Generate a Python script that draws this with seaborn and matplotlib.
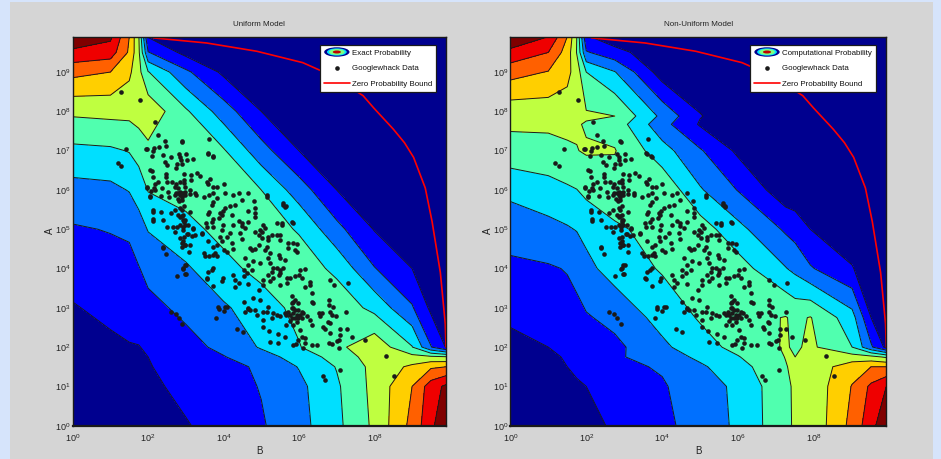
import matplotlib
matplotlib.use("Agg")
import matplotlib.pyplot as plt
from matplotlib.legend_handler import HandlerBase
from matplotlib.patches import Ellipse, Patch, Rectangle
import numpy as np
import pandas as pd
import seaborn as sns

# everything below is log10 of B and A
uniform_nodes = [0, 1, 1.5, 1.75, 2, 3, 4, 5, 6, 7, 8, 9, 9.5, 9.9]
uniform_z = [
    [0, .3, .46, .54, .6, .93, 1.4, 1.9, 2.65, 3.75, 5.2, 7.3, 8.75, 9.85],
    [.3, .55, .7, .78, .8, 1.25, 1.6, 2.05, 2.75, 3.85, 5.3, 7.0, 8.5, 9.2],
    [.46, .7, .85, .92, .95, 1.35, 1.7, 2.15, 3.05, 4.05, 5.3, 6.2, 6.85, 7.0],
    [.54, .78, .92, .98, 1.0, 1.5, 1.95, 2.6, 3.4, 4.4, 5.45, 5.3, 5.2, 5.1],
    [.6, .8, .95, .97, 1.12, 1.65, 2.25, 3.1, 3.95, 4.75, 5.7, 4.05, 2.05, .95],
    [.93, 1.25, 1.35, 1.5, 1.7, 2.25, 2.85, 3.6, 4.25, 4.7, 3.7, 2.1, .8, .3],
    [1.4, 1.6, 1.7, 1.95, 2.3, 2.85, 3.75, 4.25, 4.6, 3.75, 2.05, 1.0, .4, .2],
    [1.9, 2.05, 2.15, 2.6, 3.05, 3.75, 4.25, 4.55, 3.9, 2.3, .95, .4, .2, .1],
    [2.65, 2.75, 3.05, 3.4, 4.05, 4.3, 4.6, 4.0, 2.5, 1.0, .4, .2, .1, .05],
    [3.75, 3.85, 4.05, 4.4, 4.75, 4.5, 4.1, 2.4, 1.0, .4, .2, .1, .05, .02],
    [5.2, 5.3, 5.3, 5.45, 5.7, 4.15, 2.5, 1.0, .4, .2, .1, .05, .02, .01],
    [7.3, 7.0, 6.2, 5.3, 4.05, 2.2, .8, .4, .2, .1, .05, .02, .01, 0],
    [8.75, 8.5, 6.85, 5.2, 2.05, .7, .2, .1, .05, .02, .01, 0, 0, 0],
    [9.85, 9.2, 7.0, 5.1, .95, .3, .1, .05, .02, .01, 0, 0, 0, 0],
]

nonuniform_b_nodes = [0, 1, 1.5, 1.75, 2, 2.75, 4, 5, 6, 7.25, 7.5, 7.9, 9, 9.5, 9.9]
nonuniform_a_nodes = [0, 1, 1.5, 1.75, 2, 2.75, 4, 5, 6, 7, 7.67, 7.88, 9, 9.5, 9.9]
nonuniform_z = [
    [.1, .4, .58, .66, .78, 1.1, 1.8, 2.35, 3.2, 4.75, 5.15, 5.2, 7.3, 8.65, 9.8],
    [.45, .7, .85, .93, 1.0, 1.55, 1.9, 2.55, 3.2, 4.8, 5.15, 5.25, 7.05, 8.2, 9.0],
    [.62, .85, 1.0, 1.1, 1.2, 1.75, 2.1, 2.85, 3.6, 4.95, 5.2, 5.3, 6.6, 7.0, 7.0],
    [.68, .9, 1.05, 1.15, 1.3, 1.85, 2.5, 3.2, 3.95, 5.03, 5.0, 5.35, 5.4, 5.3, 4.85],
    [.8, 1.0, 1.25, 1.4, 1.5, 1.75, 2.8, 3.6, 4.3, 5.1, 4.85, 5.2, 4.0, 2.15, .75],
    [1.1, 1.45, 1.65, 1.8, 1.9, 2.3, 3.35, 4.1, 4.6, 5.05, 4.8, 5.05, 3.4, 1.0, .4],
    [1.8, 1.9, 2.05, 2.2, 2.75, 3.4, 4.1, 4.5, 4.45, 3.05, 2.75, 2.1, 1.05, .5, .2],
    [2.4, 2.7, 2.9, 3.05, 3.25, 3.85, 4.35, 4.5, 3.3, 1.85, 1.6, 1.0, .5, .2, .1],
    [3.25, 3.6, 3.85, 3.98, 4.25, 4.55, 4.8, 3.1, 1.95, .35, .3, .2, .1, .05, .02],
    [4.6, 4.7, 4.9, 4.97, 5.1, 5.05, 3.4, 2.1, .8, .3, .2, .1, .05, .02, .01],
    [5.15, 5.15, 5.15, 5.1, 4.9, 4.6, 2.35, .9, .3, .2, .1, .05, .02, .01, 0],
    [5.2, 5.3, 5.4, 5.3, 5.15, 5.0, 2.75, 1.05, .35, .2, .1, .05, .02, .01, 0],
    [7.4, 6.95, 6.3, 5.5, 4.0, 3.05, .5, .3, .2, .1, .05, .02, .01, 0, 0],
    [8.7, 8.0, 6.55, 4.95, 2.1, 1.35, .3, .2, .1, .05, .02, .01, 0, 0, 0],
    [9.9, 9.0, 7.0, 5.0, 1.1, .4, .1, .05, .02, .01, 0, 0, 0, 0, 0],
]

band_levels = [-1, 1, 2, 3, 4, 5, 6, 7, 8, 9, 11]
band_colors = ["#00008f", "#0000ff", "#0070ff", "#00dfff", "#50ffaf",
               "#bfff40", "#ffcf00", "#ff6000", "#ef0000", "#800000"]

bound_b = [2.14, 3.55, 4.88, 6.1, 6.9, 7.7, 7.98, 8.5, 8.8, 9.04, 9.35, 9.53, 9.75, 9.88, 9.9]
bound_a = [9.87, 9.74, 9.53, 9.24, 8.9, 8.4, 8.09, 7.55, 7.2, 6.83, 6.05, 5.2, 3.9, 2.6, 2.0]

googlewhacks = [
    (1.96, 7.05), (2.16, 7.08), (2.29, 7.10), (2.45, 7.25), (2.47, 7.11), (2.89, 7.25), (2.12, 7.0), (2.10, 6.86),
    (2.40, 6.88), (2.60, 6.84), (2.82, 6.91), (2.85, 6.84), (3.01, 6.91), (2.87, 6.77), (3.02, 6.77), (3.18, 6.80),
    (3.58, 6.93), (3.71, 6.87), (2.45, 6.70), (2.51, 6.63), (2.76, 6.65), (2.89, 6.67), (2.73, 6.55), (2.05, 6.50),
    (2.10, 6.49), (2.12, 6.33), (2.48, 6.40), (2.48, 6.33), (2.96, 6.40), (3.13, 6.38), (2.94, 6.25), (3.29, 6.44),
    (3.38, 6.35), (3.13, 6.25), (2.18, 6.16), (2.16, 6.06), (2.27, 6.19), (2.49, 6.21), (2.63, 6.19), (2.74, 6.16),
    (2.85, 6.21), (2.94, 6.18), (1.96, 6.08), (2.07, 5.97), (2.18, 5.99), (2.36, 6.06), (2.54, 5.95), (2.71, 6.08),
    (2.80, 6.04), (2.85, 5.95), (2.98, 6.08), (3.10, 5.99), (3.25, 5.91), (2.05, 5.84), (2.33, 5.84), (2.56, 5.83),
    (2.71, 5.87), (2.78, 5.78), (2.89, 5.83), (2.98, 5.87), (2.12, 5.49), (2.34, 5.44), (2.14, 5.25), (2.40, 5.23),
    (2.60, 5.42), (2.71, 5.50), (2.85, 5.55), (2.94, 5.59), (2.80, 5.36), (2.89, 5.33), (2.98, 5.23), (2.51, 5.06),
    (2.65, 5.05), (2.76, 5.06), (2.94, 5.19), (2.92, 5.06), (3.07, 5.12), (3.18, 5.0), (2.71, 4.94), (2.92, 4.98),
    (3.07, 4.89), (3.42, 4.88), (2.85, 4.77), (2.94, 4.81), (2.40, 4.55), (2.89, 4.64), (2.98, 4.60), (3.16, 4.83),
    (2.80, 5.91), (2.85, 5.87), (2.89, 5.74), (2.83, 5.72), (2.74, 5.93), (2.94, 5.93), (3.57, 6.21), (3.64, 6.29),
    (3.60, 6.16), (3.73, 6.08), (4.0, 6.16), (3.84, 6.08),
    (2.89, 5.92), (2.98, 5.96), (3.11, 5.90), (3.27, 5.87), (3.47, 5.83), (3.62, 5.87), (3.73, 5.92), (3.84, 5.79),
    (4.04, 5.92), (4.26, 5.87), (4.40, 5.92), (4.66, 5.93), (5.16, 5.87), (5.59, 5.66), (5.66, 5.59), (3.73, 5.70),
    (3.69, 5.62), (4.48, 5.75), (4.81, 5.73), (4.31, 5.62), (4.17, 5.58), (4.04, 5.53), (4.84, 5.53), (3.62, 5.45),
    (3.60, 5.39), (3.91, 5.42), (3.98, 5.47), (3.95, 5.36), (4.22, 5.36), (4.66, 5.47), (4.84, 5.41), (4.84, 5.31),
    (3.89, 5.28), (3.73, 5.25), (3.54, 5.15), (3.69, 5.19), (3.73, 5.05), (3.57, 5.05), (3.98, 5.11), (3.95, 4.98),
    (4.40, 5.22), (4.48, 5.15), (4.66, 5.19), (4.48, 5.07), (4.26, 5.11), (4.57, 5.03), (4.97, 4.98), (5.06, 5.11),
    (4.93, 4.86), (5.01, 4.94), (5.10, 5.03), (4.84, 4.94), (5.41, 5.15), (5.55, 5.15), (5.81, 5.19), (4.08, 4.81),
    (4.17, 4.90), (3.91, 4.81), (4.44, 4.90), (4.48, 4.75), (4.22, 4.64), (3.95, 4.69), (4.26, 4.49), (5.19, 4.81),
    (5.28, 4.86), (5.41, 4.86), (5.50, 4.86), (5.19, 4.73), (5.01, 4.77), (4.93, 4.60), (4.75, 4.47), (4.70, 4.52),
    (4.84, 4.49), (5.10, 4.47), (5.15, 4.56), (5.50, 4.73), (5.72, 4.64), (5.85, 4.64), (5.94, 4.63), (5.72, 4.52),
    (5.90, 4.47), (5.46, 4.35), (5.50, 4.26), (5.24, 4.39), (5.19, 4.26), (5.94, 4.43),
    (2.89, 5.49), (2.93, 5.36), (3.11, 5.45), (2.85, 5.32), (2.93, 5.24), (2.98, 5.11), (2.85, 5.11), (3.18, 5.03),
    (3.04, 4.88), (3.24, 4.86), (3.42, 4.90), (3.60, 4.69), (2.93, 4.69), (2.98, 4.60), (2.89, 4.56), (3.11, 4.60),
    (3.09, 4.43), (3.73, 4.56), (3.82, 4.60), (3.78, 4.39), (4.0, 4.47), (3.47, 4.39), (3.51, 4.32), (3.62, 4.31),
    (3.73, 4.35), (3.82, 4.31), (4.08, 4.43), (4.57, 4.26), (4.79, 4.18), (4.66, 4.09), (4.97, 4.14), (4.75, 3.97),
    (4.53, 3.97), (4.62, 3.88), (5.24, 4.14), (5.32, 4.01), (5.41, 4.01), (5.50, 3.97), (5.59, 4.01), (5.63, 4.22),
    (5.28, 3.92), (5.19, 3.84), (5.06, 3.71), (5.06, 3.58), (5.32, 3.75), (5.46, 3.84), (5.50, 3.88), (5.68, 3.75),
    (5.77, 3.75), (5.90, 3.80), (5.99, 3.84), (5.68, 3.63), (5.50, 3.58), (5.24, 3.67), (5.81, 3.29), (5.90, 3.20),
    (5.81, 3.12), (4.53, 3.16), (4.79, 3.25), (4.97, 3.19), (3.69, 3.97), (3.73, 4.01), (3.60, 3.90), (2.98, 4.09),
    (2.93, 4.01), (2.98, 3.86), (3.55, 3.75), (3.98, 3.75), (3.95, 3.67), (3.73, 3.56), (4.26, 3.84), (4.31, 3.71),
    (4.53, 3.80), (4.40, 3.63), (4.66, 3.61), (4.31, 3.54), (4.93, 3.46), (3.86, 3.02), (4.04, 3.02), (4.66, 2.97),
    (5.19, 3.02),
    (6.03, 3.96), (6.16, 4.0), (6.29, 3.66), (6.29, 3.58), (6.07, 3.75), (6.16, 3.54), (6.34, 3.37), (5.98, 3.11),
    (5.85, 3.16), (6.34, 3.16), (6.38, 3.13), (6.82, 3.72), (6.93, 3.58), (7.29, 3.62), (6.80, 3.20), (6.81, 3.07),
    (6.82, 2.90), (6.90, 3.03), (6.87, 2.82), (6.98, 2.80), (7.25, 2.90), (5.72, 2.90), (5.81, 2.99), (5.90, 2.94),
    (5.98, 2.94), (6.07, 2.90), (5.76, 2.82), (5.85, 2.86), (5.94, 2.82), (6.03, 2.82), (6.12, 2.86), (5.67, 2.82),
    (5.81, 2.73), (5.90, 2.73), (5.98, 2.73), (6.07, 2.73), (6.21, 2.78), (5.85, 2.99), (5.76, 2.67), (5.94, 2.65),
    (6.29, 2.69), (6.52, 2.88), (6.60, 2.86), (6.56, 2.78), (6.78, 2.65), (6.82, 2.61), (6.34, 2.56), (6.65, 2.52),
    (6.69, 2.46), (7.09, 2.46), (7.27, 2.46), (7.09, 2.31), (6.82, 2.37), (6.81, 2.11), (6.03, 2.44), (5.85, 2.56),
    (5.67, 2.56), (6.07, 2.25), (6.16, 2.22), (5.98, 2.18), (6.16, 2.10), (5.83, 2.05), (5.92, 2.07), (6.10, 1.97),
    (6.34, 2.05), (6.49, 2.05), (6.87, 2.08), (7.0, 2.16), (7.05, 2.18), (7.07, 1.97), (5.23, 2.14), (5.45, 2.10),
    (5.05, 2.50), (5.21, 2.42), (5.44, 2.33), (5.63, 2.27), (4.37, 2.46), (4.52, 2.39), (5.05, 2.69), (5.32, 2.86),
    (5.50, 2.78), (5.63, 2.86), (4.88, 2.82), (4.70, 2.94), (4.57, 2.90), (4.66, 2.99), (5.05, 2.90), (5.14, 2.90),
    (5.28, 2.73), (4.83, 2.94), (5.41, 2.82),
    (1.27, 8.49), (1.79, 8.28), (2.19, 7.73), (2.27, 7.39), (1.41, 7.05), (1.19, 6.68), (1.27, 6.61), (1.94, 7.03),
    (3.62, 7.29), (2.91, 7.22), (3.60, 6.91), (3.73, 6.84), (1.96, 6.06), (2.05, 5.81), (5.15, 5.83), (5.59, 5.62),
    (5.64, 5.57), (5.84, 5.17), (5.55, 5.11), (2.12, 5.45), (2.14, 5.21), (2.39, 4.53), (2.47, 4.36), (3.0, 3.87),
    (2.92, 4.0), (3.01, 4.08), (2.76, 3.81), (3.56, 3.73), (2.60, 2.90), (2.74, 2.84), (2.82, 2.75), (2.91, 2.60),
    (3.81, 2.75), (3.87, 2.98), (4.0, 2.92), (4.09, 3.01), (7.76, 2.18), (8.31, 1.77), (8.51, 1.27), (7.08, 1.42),
    (6.63, 1.27), (6.70, 1.16), (7.41, 2.26),
]

plt.rcParams["mathtext.fontset"] = "custom"
plt.rcParams["mathtext.rm"] = "Liberation Sans"
sns.set_theme(style="white")
plt.rcParams["font.family"] = ["Liberation Sans", "DejaVu Sans"]


class ContourHandler(HandlerBase):
    # the little ringed blob matlab draws for a contour group
    def create_artists(self, legend, orig_handle, xd, yd, width, height, fontsize, trans):
        rings = []
        for color, frac in [("#00008f", 1.0), ("#00dfff", .78), ("#80ff80", .62), ("#bf0000", .32)]:
            rings.append(Ellipse((width / 2 - xd, height / 2 - yd), width * frac, height * 1.7 * frac,
                                 facecolor=color, edgecolor="none", transform=trans))
        return rings


def draw_panel(ax, b_nodes, a_nodes, z, title, prob_label, legend_x):
    x, y = np.meshgrid(b_nodes, a_nodes)
    z = np.array(z)
    ax.contourf(x, y, z, levels=band_levels, colors=band_colors)
    ax.contour(x, y, z, levels=band_levels[1:-1], colors="k", linewidths=0.7)
    pts = pd.DataFrame(googlewhacks, columns=["B", "A"])
    sns.scatterplot(data=pts, x="B", y="A", ax=ax, color="k", s=11, linewidth=0,
                    label="Googlewhack Data", zorder=3)
    bound = pd.DataFrame({"B": bound_b, "A": bound_a})
    sns.lineplot(data=bound, x="B", y="A", ax=ax, sort=False, estimator=None, color="#ff0000",
                 linewidth=1.2, label="Zero Probability Bound", zorder=2)
    ax.set_xlim(0, 9.9)
    ax.set_ylim(0, 9.9)
    ax.set_xticks(range(0, 10, 2))
    ax.set_yticks(range(0, 10))
    ax.set_xticklabels([rf"$\mathregular{{10^{{{k}}}}}$" for k in range(0, 10, 2)])
    ax.set_yticklabels([rf"$\mathregular{{10^{{{k}}}}}$" for k in range(0, 10)])
    minors = [k + np.log10(m) for k in range(0, 10) for m in range(2, 10) if k + np.log10(m) < 9.9]
    ax.set_yticks(minors, minor=True)
    ax.tick_params(which="major", direction="in", length=3.5, width=0.6, top=True, right=True,
                   labelsize=6.5, color="k", labelcolor="#222222")
    ax.tick_params(axis="x", which="major", pad=5)
    ax.tick_params(axis="y", which="major", pad=1.5)
    ax.tick_params(which="minor", direction="in", length=1.5, width=0.4, left=True, right=True, color="k")
    for side in ax.spines.values():
        side.set_visible(True)
        side.set_color("k")
        side.set_linewidth(1.0)
    ax.spines["bottom"].set_linewidth(1.6)
    ax.set_xlabel("B", fontsize=7, labelpad=1.5, color="#222222")
    ax.set_ylabel("A", fontsize=7, labelpad=0, color="#222222")
    ax.set_title(title, fontsize=5.8, pad=8, color="#222222")
    handles, labels = ax.get_legend_handles_labels()
    prob = Patch(label=prob_label)
    leg = ax.legend([prob] + handles, [prob_label] + labels, handler_map={Patch: ContourHandler()},
                    loc="upper left", bbox_to_anchor=(legend_x, 0.979), borderaxespad=0, fontsize=5.7,
                    handlelength=3.2, handletextpad=0.3, labelspacing=1.0, borderpad=0.55, fancybox=False,
                    framealpha=1, facecolor="white", edgecolor="k", labelcolor="#111111")
    leg.get_frame().set_linewidth(0.9)


fig = plt.figure(figsize=(9.41, 4.59), dpi=100, facecolor="#d6e4fb")
fig.add_artist(Rectangle((9.5 / 941, 0), 923.5 / 941, 457.5 / 459, transform=fig.transFigure,
                         facecolor="#d5d5d5", edgecolor="none", zorder=-1))
ax1 = fig.add_axes([72.7 / 941, 33.3 / 459, 373.3 / 941, 389 / 459])
ax2 = fig.add_axes([510.3 / 941, 33.3 / 459, 376 / 941, 389 / 459])
draw_panel(ax1, uniform_nodes, uniform_nodes, uniform_z, "Uniform Model", "Exact Probability", 0.662)
draw_panel(ax2, nonuniform_b_nodes, nonuniform_a_nodes, nonuniform_z, "Non-Uniform Model",
           "Computational Probability", 0.6375)

fig.savefig("out.png", dpi=100, facecolor=fig.get_facecolor())
